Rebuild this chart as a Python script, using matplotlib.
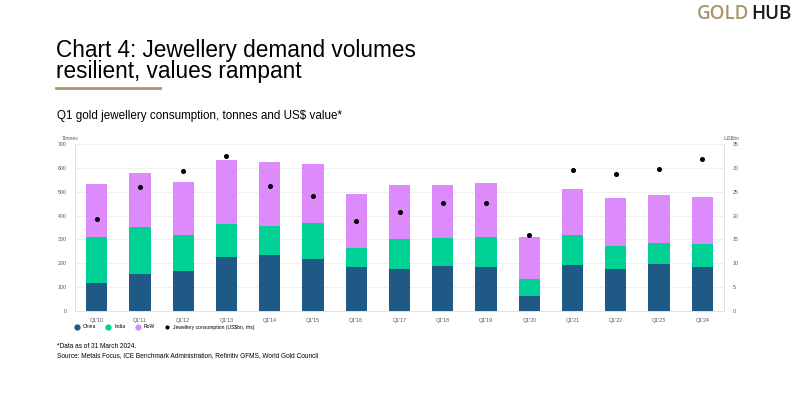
import numpy as np
import matplotlib.pyplot as plt
from matplotlib.lines import Line2D

plt.rcParams["font.family"] = ["Liberation Sans", "DejaVu Sans"]

# Q1 gold jewellery consumption (tonnes) and value (US$bn)
quarters = ["Q1'10", "Q1'11", "Q1'12", "Q1'13", "Q1'14", "Q1'15", "Q1'16", "Q1'17",
            "Q1'18", "Q1'19", "Q1'20", "Q1'21", "Q1'22", "Q1'23", "Q1'24"]
china = [118, 153, 167, 226, 236, 219, 184, 178, 187, 184, 61, 192, 177, 195, 184]
india = [193, 200, 150, 138, 122, 151, 78, 125, 120, 126, 73, 127, 95, 91, 96]
row = [223, 226, 224, 268, 267, 245, 229, 224, 223, 227, 177, 191, 201, 202, 198]
value_usd = [19.2, 26.0, 29.4, 32.4, 26.2, 24.2, 18.8, 20.8,
             22.7, 22.6, 15.9, 29.6, 28.8, 29.8, 31.9]

c_china = "#1f5a86"
c_india = "#00d195"
c_row = "#dd8bfb"
gold = "#a8976a"

fig = plt.figure(figsize=(8, 4), dpi=100)
ax = fig.add_axes([75 / 800, 1 - 311 / 400, (724 - 75) / 800, (311 - 144) / 400])
ax2 = ax.twinx()

x = np.arange(len(quarters))
w = 0.49
ax.bar(x, china, w, color=c_china, zorder=2)
ax.bar(x, india, w, bottom=china, color=c_india, zorder=2)
ax.bar(x, row, w, bottom=np.array(china) + np.array(india), color=c_row, zorder=2)
ax2.plot(x, value_usd, "o", color="black", markersize=2.6, zorder=3)

ax.set_xlim(-0.5, 14.5)
ax.set_ylim(0, 700)
ax.set_yticks(range(0, 701, 100))
ax2.set_ylim(0, 35)
ax2.set_yticks(range(0, 36, 5))
ax.set_xticks(x)
ax.set_xticklabels(quarters)
ax.grid(axis="y", color="#eeeeee", linewidth=0.6, zorder=0)
ax.set_axisbelow(True)

for a in (ax, ax2):
    a.tick_params(length=0, labelsize=3.8, labelcolor="#555555", pad=6)
    for s in a.spines.values():
        s.set_visible(False)
ax.tick_params(axis="x", pad=5)
ax.spines["left"].set_visible(True)
ax.spines["bottom"].set_visible(True)
ax2.spines["right"].set_visible(True)
for s in (ax.spines["left"], ax.spines["bottom"], ax2.spines["right"]):
    s.set_color("#dddddd")
    s.set_linewidth(0.6)

fig.text(62 / 800, 1 - 138 / 400, "Tonnes", fontsize=3.8, color="#555555",
         style="italic", va="center")
fig.text(724 / 800, 1 - 138 / 400, "US$bn", fontsize=3.8, color="#555555",
         style="italic", va="center")

# legend
handles = [
    Line2D([], [], marker="o", ls="", color=c_china, markersize=3.5),
    Line2D([], [], marker="o", ls="", color=c_india, markersize=3.5),
    Line2D([], [], marker="o", ls="", color=c_row, markersize=3.5),
    Line2D([], [], marker="o", ls="", color="black", markersize=2),
]
labels = ["China", "India", "RoW", "Jewellery consumption (US$bn, rhs)"]
fig.legend(handles, labels, loc="center left", bbox_to_anchor=(70 / 800, 1 - 327 / 400),
           ncol=4, frameon=False, fontsize=3.6, handletextpad=0.7,
           columnspacing=1.9, handlelength=1.0)

# titles
fig.text(56 / 800, 1 - 57 / 400, "Chart 4: Jewellery demand volumes", fontsize=16.3,
         va="baseline", color="black")
fig.text(56 / 800, 1 - 78 / 400, "resilient, values rampant", fontsize=16.3,
         va="baseline", color="black")
fig.add_artist(Line2D([56 / 800, 160 / 800], [1 - 88 / 400, 1 - 88 / 400],
                      color=gold, linewidth=2))
fig.text(57 / 800, 1 - 116 / 400, "Q1 gold jewellery consumption, tonnes and US$ value*",
         fontsize=8.4, va="center", color="black")

fig.text(57 / 800, 1 - 347 / 400, "*Data as of 31 March 2024.", fontsize=4.7,
         va="center", color="black")
fig.text(57 / 800, 1 - 356 / 400,
         "Source: Metals Focus, ICE Benchmark Administration, Refinitiv GFMS, World Gold Council",
         fontsize=4.7, va="center", color="black")

# logo
fig.text(749 / 800, 1 - 14 / 400, "GOLD", fontsize=13.5, fontfamily="Open Sans",
         fontweight="semibold", color=gold, va="center", ha="right")
fig.text(751 / 800, 1 - 14 / 400, "HUB", fontsize=13.5, fontfamily="Open Sans",
         fontweight="semibold", color="#1a1a1a", va="center", ha="left")

fig.savefig("out.png", dpi=100, facecolor="white")
